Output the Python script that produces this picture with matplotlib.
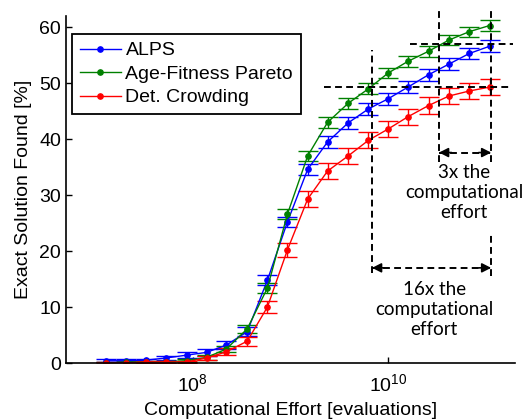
import matplotlib
matplotlib.use("Agg")
import matplotlib.pyplot as plt

# ---------------- data ----------------
effort = [1.28e7, 2.06e7, 3.3e7, 5.3e7, 8.6e7, 1.38e8, 2.2e8, 3.6e8, 5.8e8, 9.3e8,
          1.5e9, 2.4e9, 3.9e9, 6.3e9, 1.0e10, 1.6e10, 2.6e10, 4.2e10, 6.8e10, 1.1e11]

alps = [0.4, 0.4, 0.5, 0.9, 1.4, 1.9, 3.2, 5.6, 14.8, 25.2,
        34.6, 39.5, 42.9, 45.4, 47.2, 49.3, 51.5, 53.4, 55.3, 56.6]
alps_err = [0.3, 0.3, 0.3, 0.4, 0.5, 0.6, 0.7, 0.8, 0.9, 0.9,
            1.0, 1.0, 1.05, 1.05, 1.05, 1.05, 1.05, 1.05, 1.05, 1.05]

afp = [0.0, 0.1, 0.2, 0.2, 0.4, 1.0, 2.5, 6.1, 13.4, 26.6,
       37.0, 43.0, 46.4, 49.0, 51.8, 53.9, 55.7, 57.7, 59.2, 60.3]
afp_err = [0.1, 0.2, 0.2, 0.2, 0.3, 0.4, 0.6, 0.75, 0.85, 0.9,
           0.95, 0.95, 0.95, 0.95, 0.95, 0.95, 0.95, 0.9, 0.9, 0.9]

dc = [0.0, 0.0, 0.2, 0.2, 0.2, 0.9, 2.0, 3.9, 10.0, 20.2,
      29.3, 34.3, 37.0, 39.8, 41.8, 44.0, 46.0, 47.7, 48.6, 49.3]
dc_err = [0.1, 0.1, 0.2, 0.2, 0.2, 0.4, 0.6, 0.8, 1.0, 1.2,
          1.35, 1.4, 1.4, 1.4, 1.45, 1.45, 1.45, 1.45, 1.45, 1.45]

series_names = ["ALPS", "Age-Fitness Pareto", "Det. Crowding"]
series_vals = [alps, afp, dc]
series_errs = [alps_err, afp_err, dc_err]
series_colors = ["#0000ff", "#008000", "#ff0000"]

# annotation reference values
x16_start, x3_start, x_end = 6.85e9, 3.33e10, 1.14e11
y_dc_final, y_alps_final = 49.3, 57.0

# ---------------- plot ----------------
plt.rcParams['font.family'] = ['Liberation Sans', 'DejaVu Sans']
fig = plt.figure(figsize=(5.22, 4.2), dpi=100)
ax = fig.add_axes([66/522, 1-363/420, 449/522, 347/420])

for name, v, e, c in zip(series_names, series_vals, series_errs, series_colors):
    ax.errorbar(effort, v, yerr=e, color=c, marker='o', markersize=3.8, lw=1.0,
                elinewidth=1.0, capsize=7.5, capthick=1.0, label=name)

ax.set_xscale('log')
ax.set_xlim(5e6, 2e11)
ax.set_ylim(0, 62)
ax.set_xticks([1e8, 1e10])
ax.minorticks_off()
ax.set_yticks([0, 10, 20, 30, 40, 50, 60])
ax.tick_params(direction='in', length=4, labelsize=14, width=1)
ax.tick_params(axis='x', pad=7)
ax.spines['top'].set_visible(False)
ax.spines['right'].set_visible(False)
for s in ('left', 'bottom'):
    ax.spines[s].set_linewidth(1.2)

ax.set_xlabel('Computational Effort [evaluations]', fontsize=14, labelpad=5)
ax.set_ylabel('Exact Solution Found [%]', fontsize=14, labelpad=5)

# legend
handles, labels = ax.get_legend_handles_labels()
handles = [h[0] for h in handles]
leg = ax.legend(handles, labels, loc='upper left', bbox_to_anchor=(0.0134, 0.948),
                borderaxespad=0, fontsize=14, fancybox=False, framealpha=1,
                edgecolor='black', handlelength=2.1, handletextpad=0.25,
                labelspacing=0.3, borderpad=0.4)
leg.get_frame().set_linewidth(1.3)

# dashed guide lines
dash = dict(color='black', lw=1.4, linestyle=(0, (3.5, 2.2)), clip_on=False, zorder=5)
ax.plot([x16_start, x16_start], [16.0, 55.9], **dash)
ax.plot([x3_start, x3_start], [35.9, 63.4], **dash)
ax.plot([x_end, x_end], [35.9, 63.4], **dash)
ax.plot([x_end, x_end], [15.5, 23.0], **dash)
ax.plot([2.2e9, 1.8e11], [y_dc_final, y_dc_final], **dash)
ax.plot([1.68e10, 1.9e11], [y_alps_final, y_alps_final], **dash)

# double arrows
def double_arrow(x0, x1, y):
    ax.plot([x0, x1], [y, y], **dash)
    hp = dict(arrowstyle='-|>,head_length=0.55,head_width=0.28', color='black',
              lw=1.2, shrinkA=0, shrinkB=0)
    ax.annotate('', xy=(x1, y), xytext=(-9, 0), textcoords='offset points',
                arrowprops=hp, annotation_clip=False)
    ax.annotate('', xy=(x0, y), xytext=(9, 0), textcoords='offset points',
                arrowprops=hp, annotation_clip=False)

double_arrow(x3_start, x_end, 37.6)
double_arrow(x16_start, x_end, 17.0)

ax.text(6.0e10, 30.4, '3x the\ncomputational\neffort', ha='center', va='center',
        fontsize=13.5, family=['Lato', 'DejaVu Sans'], linespacing=1.22)
ax.text(2.97e10, 9.5, '16x the\ncomputational\neffort', ha='center', va='center',
        fontsize=13.5, family=['Lato', 'DejaVu Sans'], linespacing=1.22)

fig.savefig('out.png', dpi=100)
